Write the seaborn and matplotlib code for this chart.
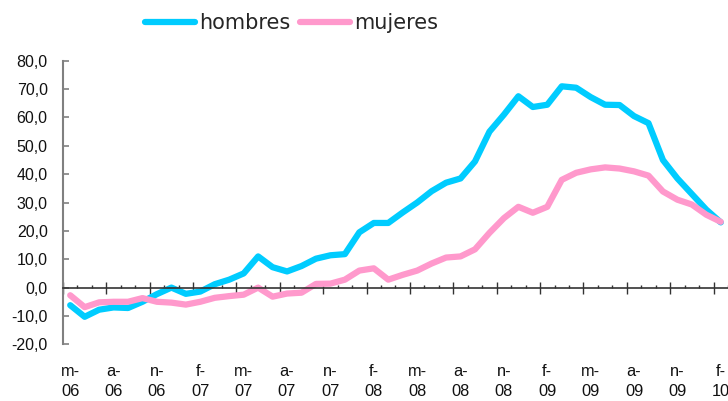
import numpy as np
import pandas as pd
import matplotlib
matplotlib.use("Agg")
import matplotlib.pyplot as plt
from matplotlib.ticker import FuncFormatter
import seaborn as sns

# Monthly values, May 2006 .. Feb 2010
hombres = [-6.2, -10.3, -7.8, -7.0, -7.2, -5.0, -2.3, 0.0, -2.2, -1.4,
           1.2, 2.8, 5.0, 11.0, 7.2, 5.7, 7.6, 10.2, 11.4, 11.8,
           19.5, 22.8, 22.8, 26.5, 30.0, 34.0, 37.0, 38.5, 44.5, 55.0,
           61.0, 67.5, 63.7, 64.5, 71.0, 70.5, 67.2, 64.5, 64.4, 60.5,
           58.0, 45.0, 38.5, 33.0, 27.5, 23.0]
mujeres = [-2.7, -6.9, -5.2, -5.0, -5.0, -3.7, -5.0, -5.3, -6.0, -5.0,
           -3.6, -3.0, -2.5, 0.0, -3.2, -2.1, -1.8, 1.3, 1.4, 2.8,
           6.0, 6.8, 2.8, 4.5, 6.0, 8.5, 10.6, 11.0, 13.5, 19.3,
           24.5, 28.5, 26.4, 28.5, 38.0, 40.5, 41.7, 42.4, 42.0, 41.0,
           39.5, 33.9, 31.0, 29.3, 25.7, 23.2]
month_labels = ["m-\n06", "a-\n06", "n-\n06", "f-\n07", "m-\n07", "a-\n07",
                "n-\n07", "f-\n08", "m-\n08", "a-\n08", "n-\n08", "f-\n09",
                "m-\n09", "a-\n09", "n-\n09", "f-\n10"]
series_names = ["hombres", "mujeres"]
colors = ["#00CCFF", "#FF99CC"]

months = np.arange(len(hombres))
df = pd.DataFrame({
    "mes": np.concatenate([months, months]),
    "valor": hombres + mujeres,
    "serie": [series_names[0]] * len(hombres) + [series_names[1]] * len(mujeres),
})

sns.set_style("white")
plt.rcParams["font.family"] = ["Liberation Sans", "DejaVu Sans"]

fig = plt.figure(figsize=(7.28, 4.01), dpi=100)
ax = fig.add_axes([0.0865, 0.1414, 0.9135, 0.707])

sns.lineplot(data=df, x="mes", y="valor", hue="serie", palette=colors,
             linewidth=4.5, ax=ax, legend=False, solid_capstyle="round",
             solid_joinstyle="round")

ax.set_xlim(-0.5, len(hombres) - 0.5)
ax.set_ylim(-20, 80)
ax.set_xlabel("")
ax.set_ylabel("")

# y axis
ax.set_yticks(np.arange(-20, 81, 10))
ax.yaxis.set_major_formatter(FuncFormatter(lambda v, p: f"{v:.1f}".replace(".", ",")))
ax.tick_params(axis="y", left=True, direction="in", length=4.5, width=1.2,
               color="#808080", labelsize=11.5, pad=11, labelcolor="#111111")

# x axis line at zero with month ticks
for s in ["top", "right"]:
    ax.spines[s].set_visible(False)
ax.spines["left"].set_color("#808080")
ax.spines["left"].set_linewidth(1.5)
ax.spines["bottom"].set_position(("data", 0))
ax.spines["bottom"].set_color("#333333")
ax.spines["bottom"].set_linewidth(1.2)
ax.set_xticks(np.arange(-0.5, len(hombres) - 1, 3))
ax.set_xticks(np.arange(-0.5, len(hombres), 1), minor=True)
ax.tick_params(axis="x", which="major", bottom=True, direction="inout",
               length=8, width=1, color="#333333", labelbottom=False)
ax.tick_params(axis="x", which="minor", bottom=True, direction="in",
               length=2.5, width=1, color="#333333")

# category labels below the plot
sec = ax.secondary_xaxis("bottom")
sec.set_xticks(np.arange(0, len(hombres), 3))
sec.set_xticklabels(month_labels)
sec.spines["bottom"].set_visible(False)
sec.tick_params(length=0, pad=14, labelsize=11.8, labelcolor="#111111")
for t in sec.get_xticklabels():
    t.set_linespacing(1.45)

handles = [plt.Line2D([], [], color=c, lw=4.5, solid_capstyle="round") for c in colors]
fig.legend(handles, series_names, loc="center", bbox_to_anchor=(0.40, 0.942),
           ncol=2, frameon=False, handlelength=2.4, handletextpad=0.2,
           columnspacing=0.45, prop={"family": "DejaVu Sans", "size": 15})

fig.savefig("out.png", dpi=100)
